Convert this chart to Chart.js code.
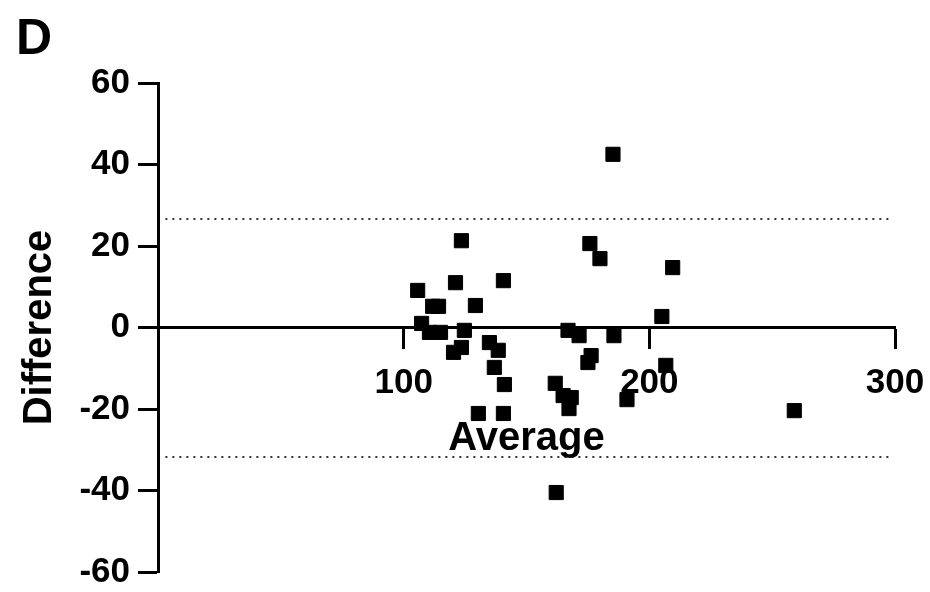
<!DOCTYPE html>
<html>
<head>
<meta charset="utf-8">
<script src="https://cdn.jsdelivr.net/npm/chart.js@4.4.1/dist/chart.umd.min.js"></script>
<style>
  html, body { margin: 0; padding: 0; background: #fff; }
  #wrap { width: 930px; height: 592px; position: relative; }
</style>
</head>
<body>
<div id="wrap"><canvas id="baChart"></canvas></div>
<script>
// Bland-Altman data: average of the two methods vs their difference
const avgValues = [105.7, 107.3, 111.8, 114.2, 110.5, 115.0, 121.1, 123.5, 124.7, 120.3,
                   123.5, 129.2, 140.6, 134.9, 138.5, 136.9, 141.0, 130.4, 140.6, 185.2,
                   175.8, 179.9, 166.9, 171.4, 161.7, 164.9, 168.2, 167.3, 162.1, 176.3,
                   175.0, 185.6, 190.9, 205.1, 206.7, 209.5, 259.0];
const diffValues = [9.1, 1.0, 5.2, 5.2, -1.2, -1.2, 11.0, 21.3, -0.7, -6.1,
                    -4.9, 5.4, 11.5, -3.7, -5.6, -9.8, -14.0, -21.1, -21.1, 42.5,
                    20.6, 16.9, -0.7, -2.0, -13.7, -16.7, -17.2, -19.9, -40.5, -6.9,
                    -8.6, -2.0, -17.7, 2.7, -9.3, 14.7, -20.4];

// limits of agreement
const upperLimit = 26.6;
const lowerLimit = -31.8;
const limitSpan = [3, 298];

const FONT = "'Liberation Sans', Arial, sans-serif";

const points = avgValues.map((x, i) => ({ x: x, y: diffValues[i] }));
const limitLine = (y) => limitSpan.map(x => ({ x: x, y: y }));

// panel letter + x axis title
const extraText = {
    id: 'extraText',
    afterDraw(chart) {
        const c = chart.ctx;
        const area = chart.chartArea;
        const yZero = chart.scales.y.getPixelForValue(0);
        c.save();
        c.fillStyle = '#000';
        c.font = 'bold 50px ' + FONT;
        c.textAlign = 'left';
        c.textBaseline = 'alphabetic';
        c.fillText('D', 16, 54);
        c.font = 'bold 40px ' + FONT;
        c.textAlign = 'center';
        c.fillText('Average', (area.left + area.right) / 2, yZero + 122);
        c.restore();
    }
};

const ctx = document.getElementById('baChart').getContext('2d');
new Chart(ctx, {
    type: 'scatter',
    data: {
        datasets: [{
            data: points,
            pointStyle: 'rect',
            pointRadius: 10,
            pointHoverRadius: 10,
            backgroundColor: '#000',
            borderColor: '#000',
            borderWidth: 1
        }, {
            type: 'line',
            data: limitLine(upperLimit),
            borderColor: '#333',
            borderWidth: 2,
            borderDash: [2, 5],
            pointRadius: 0,
            fill: false
        }, {
            type: 'line',
            data: limitLine(lowerLimit),
            borderColor: '#333',
            borderWidth: 2,
            borderDash: [2, 5],
            pointRadius: 0,
            fill: false
        }]
    },
    options: {
        responsive: true,
        maintainAspectRatio: false,
        animation: false,
        layout: { padding: { left: 0, right: 35, top: 83, bottom: 20 } },
        plugins: {
            legend: { display: false },
            tooltip: { enabled: false }
        },
        scales: {
            x: {
                type: 'linear',
                position: { y: 0 },
                min: 0,
                max: 300,
                ticks: {
                    stepSize: 100,
                    maxRotation: 0,
                    padding: 2,
                    color: '#000',
                    font: { family: FONT, size: 35, weight: 'bold', lineHeight: 1.94 },
                    callback: (v) => v === 0 ? '' : v
                },
                grid: {
                    drawOnChartArea: false,
                    drawTicks: true,
                    tickLength: 20,
                    tickWidth: 3,
                    tickColor: (c) => (c.tick && c.tick.value === 0) ? 'rgba(0,0,0,0)' : '#000'
                },
                border: { display: true, color: '#000', width: 3 }
            },
            y: {
                type: 'linear',
                position: 'left',
                min: -60,
                max: 60,
                afterFit: (scale) => { scale.width = 158; },
                ticks: {
                    stepSize: 20,
                    padding: 8,
                    color: '#000',
                    font: { family: FONT, size: 35, weight: 'bold', lineHeight: 0.6 }
                },
                grid: {
                    drawOnChartArea: false,
                    drawTicks: true,
                    tickLength: 20,
                    tickWidth: 3,
                    tickColor: '#000'
                },
                border: { display: true, color: '#000', width: 3 },
                title: {
                    display: true,
                    text: 'Difference',
                    color: '#000',
                    padding: { top: 16, bottom: 0 },
                    font: { family: FONT, size: 40, weight: 'bold' }
                }
            }
        }
    },
    plugins: [extraText]
});
</script>
</body>
</html>
